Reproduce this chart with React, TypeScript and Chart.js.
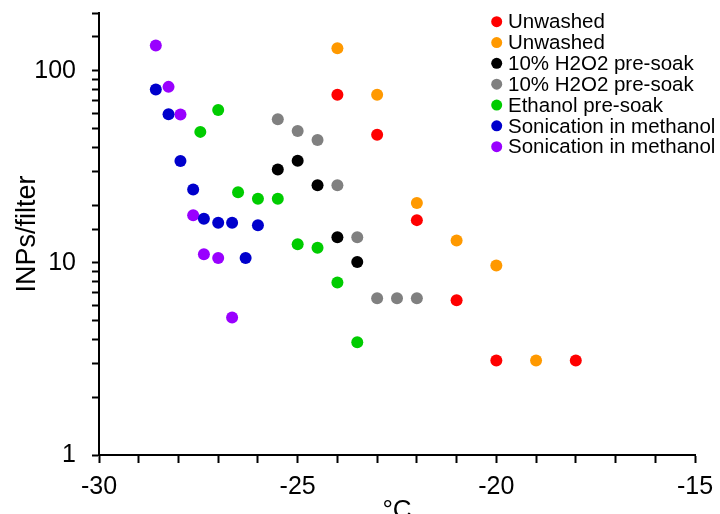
import React, { useEffect, useRef } from 'react';
import { Chart, registerables } from 'chart.js';

Chart.register(...registerables);

const FONT = '"Liberation Sans", Arial, Helvetica, sans-serif';

// Series labels and colours
const seriesLabels = [
  'Unwashed',
  'Unwashed',
  '10% H2O2 pre-soak',
  '10% H2O2 pre-soak',
  'Ethanol pre-soak',
  'Sonication in methanol',
  'Sonication in methanol',
];
const seriesColors = ['#FF0000', '#FF9900', '#000000', '#808080', '#00CC00', '#0000CC', '#9900FF'];

// Temperatures (°C) and INPs/filter per series
const unwashedRedTemp = [-24, -23, -22, -21, -20, -18];
const unwashedRedINP = [75, 46.5, 16.7, 6.4, 3.1, 3.1];

const unwashedOrangeTemp = [-24, -23, -22, -21, -20, -19];
const unwashedOrangeINP = [131, 75, 20.5, 13.1, 9.7, 3.1];

const h2o2BlackTemp = [-25.5, -25, -24.5, -24, -23.5];
const h2o2BlackINP = [30.6, 34, 25.4, 13.6, 10.1];

const h2o2GreyTemp = [-25.5, -25, -24.5, -24, -23.5, -23, -22.5, -22];
const h2o2GreyINP = [56, 48.6, 43.6, 25.4, 13.6, 6.55, 6.55, 6.55];

const ethanolTemp = [-27, -27.45, -26.5, -26, -25.5, -25, -24.5, -24, -23.5];
const ethanolINP = [62.6, 48.1, 23.3, 21.6, 21.6, 12.5, 12.0, 7.9, 3.86];

const sonicBlueTemp = [-28.57, -28.25, -27.95, -27.63, -27.36, -27.0, -26.65, -26.0, -26.31];
const sonicBlueINP = [80, 59.4, 33.9, 24.1, 17.0, 16.2, 16.2, 15.7, 10.6];

const sonicPurpleTemp = [-28.57, -28.25, -27.95, -27.63, -27.36, -27.0, -26.65];
const sonicPurpleINP = [135.5, 82.5, 59.2, 17.7, 11.1, 10.6, 5.2];

const seriesTemps = [unwashedRedTemp, unwashedOrangeTemp, h2o2BlackTemp, h2o2GreyTemp, ethanolTemp, sonicBlueTemp, sonicPurpleTemp];
const seriesINPs = [unwashedRedINP, unwashedOrangeINP, h2o2BlackINP, h2o2GreyINP, ethanolINP, sonicBlueINP, sonicPurpleINP];

// Axis settings / tick labels
const xMin = -30;
const xMax = -15;
const xMajorTicks = [-30, -25, -20, -15];
const yMin = 1;
const yMax = 200;
const yMajorTicks = [1, 10, 100];
const xTitle = '°C';
const yTitle = 'INPs/filter';

const legendPlugin = {
  id: 'sideLegend',
  afterDraw(chart: any) {
    const ctx = chart.ctx;
    ctx.save();
    ctx.font = `20.5px ${FONT}`;
    ctx.textBaseline = 'middle';
    ctx.textAlign = 'left';
    chart.data.datasets.forEach((ds: any, i: number) => {
      const y = 21.7 + i * 20.83;
      ctx.fillStyle = ds.backgroundColor;
      ctx.beginPath();
      ctx.arc(496.7, y, 5.5, 0, Math.PI * 2);
      ctx.fill();
      ctx.fillStyle = '#000000';
      ctx.fillText(ds.label, 508, y + 1);
    });
    ctx.restore();
  },
};

export default function App() {
  const canvasRef = useRef<HTMLCanvasElement | null>(null);

  useEffect(() => {
    if (!canvasRef.current) return;
    const datasets = seriesLabels.map((label, i) => ({
      label,
      data: seriesTemps[i].map((t, j) => ({ x: t, y: seriesINPs[i][j] })),
      backgroundColor: seriesColors[i],
      borderColor: seriesColors[i],
      borderWidth: 0,
      pointRadius: 6,
      pointHoverRadius: 6,
      showLine: false,
    }));

    const chart = new Chart(canvasRef.current, {
      type: 'scatter',
      data: { datasets },
      plugins: [legendPlugin],
      options: {
        responsive: false,
        animation: false,
        devicePixelRatio: 1,
        layout: { padding: { top: 13, right: 25, left: 0, bottom: 0 } },
        plugins: {
          legend: { display: false },
          tooltip: { enabled: false },
        },
        scales: {
          x: {
            type: 'linear',
            position: 'bottom',
            min: xMin,
            max: xMax,
            afterFit: (scale: any) => {
              scale.height = 59;
              scale.paddingLeft = 0;
              scale.paddingRight = 0;
            },
            border: { display: true, color: '#000000', width: 2 },
            grid: {
              drawOnChartArea: false,
              drawTicks: true,
              tickLength: 8,
              tickColor: '#000000',
              tickWidth: 2,
            },
            ticks: {
              stepSize: 1,
              autoSkip: false,
              maxRotation: 0,
              padding: 9,
              color: '#000000',
              font: { family: FONT, size: 25, lineHeight: 1.2 },
              callback: (v: any) => (xMajorTicks.includes(Number(v)) ? String(v) : ''),
            },
            title: {
              display: true,
              text: xTitle,
              color: '#000000',
              font: { family: FONT, size: 26, lineHeight: 1.2 },
              padding: { top: 0, bottom: -12.5 },
            },
          },
          y: {
            type: 'logarithmic',
            position: 'left',
            min: yMin,
            max: yMax,
            afterFit: (scale: any) => {
              scale.width = 99;
              scale.paddingTop = 0;
              scale.paddingBottom = 0;
            },
            border: { display: true, color: '#000000', width: 2 },
            grid: {
              drawOnChartArea: false,
              drawTicks: true,
              tickLength: 7,
              tickColor: '#000000',
              tickWidth: 2,
            },
            ticks: {
              autoSkip: false,
              padding: 16,
              color: '#000000',
              font: { family: FONT, size: 25, lineHeight: 1.2 },
              callback: (v: any) => (yMajorTicks.includes(Number(v)) ? String(v) : ''),
            },
            title: {
              display: true,
              text: yTitle,
              color: '#000000',
              font: { family: FONT, size: 27, lineHeight: 1.2 },
              padding: { top: 11, bottom: 0 },
            },
          },
        },
      },
    } as any);

    return () => chart.destroy();
  }, []);

  return (
    <div style={{ position: 'absolute', left: 0, top: 0, width: 720, height: 514, background: '#ffffff' }}>
      <canvas ref={canvasRef} width={720} height={514} style={{ display: 'block' }} />
    </div>
  );
}
